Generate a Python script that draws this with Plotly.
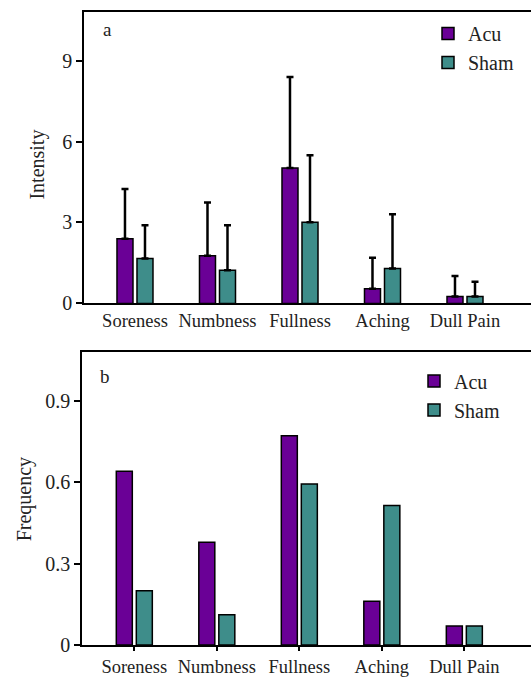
import plotly.graph_objects as go

categories = ["Soreness", "Numbness", "Fullness", "Aching", "Dull Pain"]
intensity_acu = [2.40, 1.77, 5.02, 0.54, 0.26]
intensity_acu_err = [1.84, 1.97, 3.37, 1.15, 0.76]
intensity_sham = [1.66, 1.23, 3.01, 1.29, 0.26]
intensity_sham_err = [1.24, 1.67, 2.48, 2.01, 0.54]
freq_acu = [0.640, 0.378, 0.770, 0.161, 0.070]
freq_sham = [0.200, 0.111, 0.593, 0.514, 0.070]
ytick_a = [0, 3, 6, 9]
ytick_a_text = ["0", "3", "6", "9"]
ytick_b = [0, 0.3, 0.6, 0.9]
ytick_b_text = ["0", "0.3", "0.6", "0.9"]

PURPLE = "#6a0096"
TEAL = "#3e8d8a"
FONT = "'Liberation Serif', 'Times New Roman', Times, 'DejaVu Serif', serif"

W, H = 532, 678
ML, MR, MT, MB = 81, 1, 12, 23
PW = W - ML - MR
PH = H - MT - MB


def px_x(px):
    return (px - ML) / PW


def px_y(py):
    return (H - MB - py) / PH


fig = go.Figure()

line = dict(color="black", width=1.5)
fig.add_trace(go.Bar(x=categories, y=intensity_acu, name="Acu", marker=dict(color=PURPLE, line=line),
                     error_y=dict(type="data", array=intensity_acu_err, arrayminus=[0]*5, symmetric=False,
                                  color="black", thickness=2.5, width=3.5),
                     xaxis="x", yaxis="y", legend="legend"))
fig.add_trace(go.Bar(x=categories, y=intensity_sham, name="Sham", marker=dict(color=TEAL, line=line),
                     error_y=dict(type="data", array=intensity_sham_err, arrayminus=[0]*5, symmetric=False,
                                  color="black", thickness=2.5, width=3.5),
                     xaxis="x", yaxis="y", legend="legend"))
fig.add_trace(go.Bar(x=categories, y=freq_acu, name="Acu", marker=dict(color=PURPLE, line=line),
                     xaxis="x2", yaxis="y2", legend="legend2"))
fig.add_trace(go.Bar(x=categories, y=freq_sham, name="Sham", marker=dict(color=TEAL, line=line),
                     xaxis="x2", yaxis="y2", legend="legend2"))

axis_common = dict(showline=True, linecolor="black", linewidth=1.5, showgrid=False, zeroline=False)

fig.update_layout(
    width=W, height=H,
    margin=dict(l=ML, r=MR, t=MT, b=MB),
    paper_bgcolor="white", plot_bgcolor="white",
    barmode="group", bargap=0.515, bargroupgap=0.2,
    font=dict(family=FONT, color="#222"),
    xaxis=dict(**axis_common, domain=[px_x(84), 1], range=[-0.618, 4.80], mirror=True, ticks="",
               anchor="y", tickfont=dict(family=FONT, size=18.5, color="#222")),
    yaxis=dict(**axis_common, domain=[px_y(308), 1], range=[0, 10.8], tickvals=ytick_a, ticktext=ytick_a_text,
               ticks="outside", ticklen=6, tickwidth=1.5, tickcolor="black", anchor="x",
               tickfont=dict(family=FONT, size=20, color="#222")),
    xaxis2=dict(**axis_common, domain=[px_x(82), 1], range=[-0.634, 4.808], mirror=True, ticks="outside",
                ticklen=4, tickwidth=1.5, tickcolor="black", anchor="y2",
                tickfont=dict(family=FONT, size=18.5, color="#222")),
    yaxis2=dict(**axis_common, domain=[0, px_y(357)], range=[0, 1.08], tickvals=ytick_b, ticktext=ytick_b_text,
                ticks="outside", ticklen=6, tickwidth=1.5, tickcolor="black", anchor="x2",
                tickfont=dict(family=FONT, size=20, color="#222")),
    legend=dict(x=px_x(428), y=px_y(14), xanchor="left", yanchor="top", bgcolor="rgba(0,0,0,0)",
                font=dict(family=FONT, size=20, color="#222"), tracegroupgap=0),
    legend2=dict(x=px_x(414), y=px_y(367), xanchor="left", yanchor="top", bgcolor="rgba(0,0,0,0)",
                 font=dict(family=FONT, size=20, color="#222"), tracegroupgap=0),
    annotations=[
        dict(text="a", x=px_x(107), y=px_y(30), xref="paper", yref="paper", showarrow=False,
             xanchor="center", yanchor="middle", font=dict(family=FONT, size=19, color="#222")),
        dict(text="b", x=px_x(105), y=px_y(382), xref="paper", yref="paper", showarrow=False,
             xanchor="center", yanchor="middle", font=dict(family=FONT, size=19, color="#222")),
        dict(text="Intensity", x=px_x(38), y=px_y(167), xref="paper", yref="paper", showarrow=False,
             xanchor="center", yanchor="middle", textangle=-90,
             font=dict(family=FONT, size=20, color="#222")),
        dict(text="Frequency", x=px_x(24), y=px_y(507), xref="paper", yref="paper", showarrow=False,
             xanchor="center", yanchor="middle", textangle=-90,
             font=dict(family=FONT, size=20, color="#222")),
    ],
)

fig.write_html("out.html")
